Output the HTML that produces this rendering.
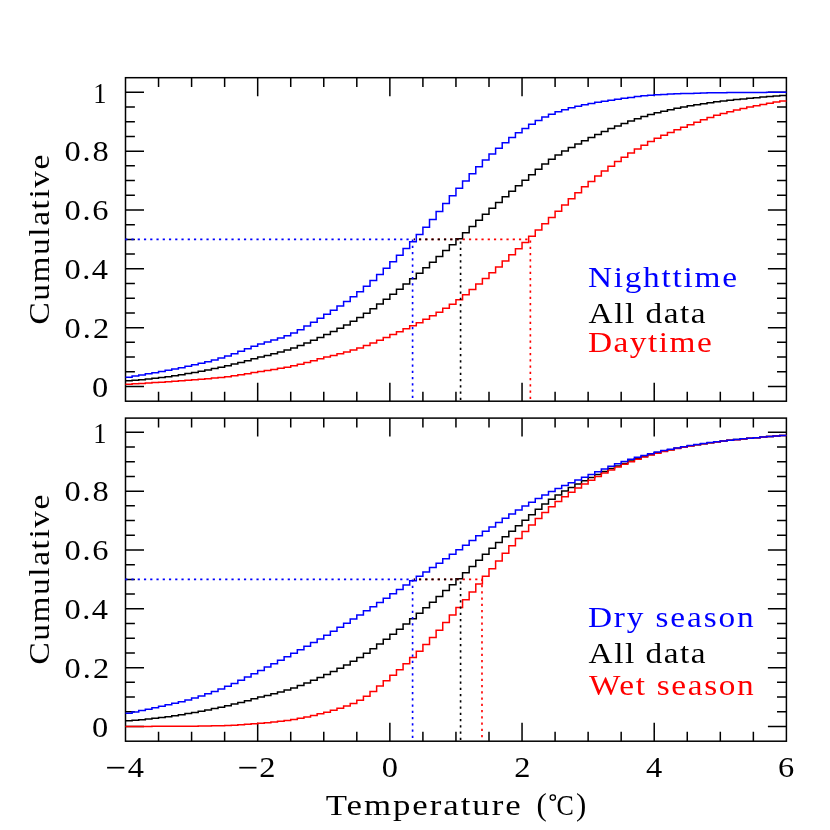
<!DOCTYPE html>
<html><head><meta charset="utf-8"><title>Cumulative temperature distributions</title>
<style>
html,body{margin:0;padding:0;background:#fff;}
svg{display:block;will-change:transform;}
text{font-family:"Liberation Serif",serif;}
</style></head>
<body>
<svg width="830" height="830" viewBox="0 0 830 830">
<rect width="830" height="830" fill="#fff"/>
<rect x="125.5" y="77.7" width="660.90" height="323.50" fill="none" stroke="#000" stroke-width="1.5"/>
<path d="M158.55,401.2v-9.4M158.55,77.7v9.4M191.59,401.2v-9.4M191.59,77.7v9.4M224.63,401.2v-9.4M224.63,77.7v9.4M257.68,401.2v-18.5M257.68,77.7v18.5M290.73,401.2v-9.4M290.73,77.7v9.4M323.77,401.2v-9.4M323.77,77.7v9.4M356.81,401.2v-9.4M356.81,77.7v9.4M389.86,401.2v-18.5M389.86,77.7v18.5M422.91,401.2v-9.4M422.91,77.7v9.4M455.95,401.2v-9.4M455.95,77.7v9.4M489.00,401.2v-9.4M489.00,77.7v9.4M522.04,401.2v-18.5M522.04,77.7v18.5M555.09,401.2v-9.4M555.09,77.7v9.4M588.13,401.2v-9.4M588.13,77.7v9.4M621.17,401.2v-9.4M621.17,77.7v9.4M654.22,401.2v-18.5M654.22,77.7v18.5M687.26,401.2v-9.4M687.26,77.7v9.4M720.31,401.2v-9.4M720.31,77.7v9.4M753.36,401.2v-9.4M753.36,77.7v9.4M125.5,386.50h18.5M786.4,386.50h-18.5M125.5,371.79h9.4M786.4,371.79h-9.4M125.5,357.08h9.4M786.4,357.08h-9.4M125.5,342.37h9.4M786.4,342.37h-9.4M125.5,327.66h18.5M786.4,327.66h-18.5M125.5,312.95h9.4M786.4,312.95h-9.4M125.5,298.24h9.4M786.4,298.24h-9.4M125.5,283.53h9.4M786.4,283.53h-9.4M125.5,268.82h18.5M786.4,268.82h-18.5M125.5,254.11h9.4M786.4,254.11h-9.4M125.5,239.40h9.4M786.4,239.40h-9.4M125.5,224.69h9.4M786.4,224.69h-9.4M125.5,209.98h18.5M786.4,209.98h-18.5M125.5,195.27h9.4M786.4,195.27h-9.4M125.5,180.56h9.4M786.4,180.56h-9.4M125.5,165.85h9.4M786.4,165.85h-9.4M125.5,151.14h18.5M786.4,151.14h-18.5M125.5,136.43h9.4M786.4,136.43h-9.4M125.5,121.72h9.4M786.4,121.72h-9.4M125.5,107.01h9.4M786.4,107.01h-9.4M125.5,92.30h18.5M786.4,92.30h-18.5" fill="none" stroke="#000" stroke-width="1.5"/>
<path d="M125.50,380.78H132.11V380.28H138.72V379.70H145.33V379.05H151.94V378.34H158.55V377.57H165.15V376.69H171.76V375.70H178.37V374.64H184.98V373.53H191.59V372.39H198.20V371.20H204.81V369.95H211.42V368.62H218.03V367.22H224.63V365.74H231.24V364.12H237.85V362.40H244.46V360.63H251.07V358.84H257.68V357.10H264.29V355.41H270.90V353.71H277.51V351.94H284.12V350.02H290.73V347.90H297.33V345.54H303.94V342.98H310.55V340.27H317.16V337.43H323.77V334.51H330.38V331.47H336.99V328.27H343.60V324.90H350.21V321.31H356.81V317.46H363.42V313.25H370.03V308.74H376.64V304.03H383.25V299.20H389.86V294.32H396.47V289.27H403.08V284.07H409.69V278.74H416.30V273.32H422.91V267.82H429.51V262.19H436.12V256.45H442.73V250.62H449.34V244.72H455.95V238.76H462.56V232.63H469.17V226.42H475.78V220.21H482.39V214.13H489.00V208.23H495.60V202.44H502.21V196.74H508.82V191.13H515.43V185.63H522.04V180.19H528.65V174.69H535.26V169.24H541.87V164.03H548.48V159.22H555.09V154.95H561.69V151.04H568.30V147.40H574.91V143.97H581.52V140.68H588.13V137.49H594.74V134.40H601.35V131.43H607.96V128.61H614.57V125.93H621.17V123.42H627.78V120.99H634.39V118.67H641.00V116.51H647.61V114.53H654.22V112.77H660.83V111.16H667.44V109.67H674.05V108.30H680.66V107.02H687.26V105.84H693.87V104.73H700.48V103.69H707.09V102.72H713.70V101.84H720.31V101.02H726.92V100.28H733.53V99.59H740.14V98.94H746.75V98.31H753.36V97.70H759.96V97.11H766.57V96.55H773.18V96.01H779.79V95.49H786.40" fill="none" stroke="#000000" stroke-width="1.5" stroke-linejoin="miter"/>
<path d="M125.50,384.25H132.11V383.85H138.72V383.45H145.33V383.03H151.94V382.60H158.55V382.16H165.15V381.71H171.76V381.26H178.37V380.78H184.98V380.29H191.59V379.77H198.20V379.24H204.81V378.69H211.42V378.10H218.03V377.44H224.63V376.69H231.24V375.79H237.85V374.78H244.46V373.71H251.07V372.62H257.68V371.56H264.29V370.53H270.90V369.47H277.51V368.36H284.12V367.15H290.73V365.79H297.33V364.21H303.94V362.48H310.55V360.67H317.16V358.85H323.77V357.10H330.38V355.41H336.99V353.71H343.60V351.94H350.21V350.02H356.81V347.89H363.42V345.50H370.03V342.90H376.64V340.17H383.25V337.38H389.86V334.59H396.47V331.76H403.08V328.85H409.69V325.83H416.30V322.66H422.91V319.32H429.51V315.85H436.12V312.21H442.73V308.35H449.34V304.23H455.95V299.79H462.56V294.87H469.17V289.58H475.78V284.05H482.39V278.41H489.00V272.74H495.60V266.90H502.21V260.89H508.82V254.78H515.43V248.64H522.04V242.50H528.65V236.28H535.26V230.00H541.87V223.72H548.48V217.48H555.09V211.30H561.69V205.04H568.30V198.80H574.91V192.70H581.52V186.87H588.13V181.39H594.74V176.12H601.35V171.05H607.96V166.20H614.57V161.59H621.17V157.22H627.78V153.01H634.39V148.98H641.00V145.17H647.61V141.62H654.22V138.37H660.83V135.35H667.44V132.53H674.05V129.85H680.66V127.26H687.26V124.72H693.87V122.20H700.48V119.77H707.09V117.46H713.70V115.34H720.31V113.44H726.92V111.69H733.53V110.07H740.14V108.55H746.75V107.11H753.36V105.74H759.96V104.43H766.57V103.18H773.18V102.01H779.79V100.91H786.40" fill="none" stroke="#ff0000" stroke-width="1.5" stroke-linejoin="miter"/>
<path d="M125.50,377.15H132.11V376.09H138.72V374.99H145.33V373.85H151.94V372.68H158.55V371.48H165.15V370.27H171.76V369.02H178.37V367.71H184.98V366.34H191.59V364.87H198.20V363.32H204.81V361.68H211.42V359.93H218.03V358.06H224.63V356.03H231.24V353.72H237.85V351.21H244.46V348.65H251.07V346.18H257.68V343.93H264.29V341.92H270.90V339.99H277.51V337.97H284.12V335.71H290.73V333.01H297.33V329.77H303.94V326.11H310.55V322.20H317.16V318.18H323.77V314.19H330.38V310.14H336.99V305.95H343.60V301.55H350.21V296.87H356.81V291.85H363.42V286.37H370.03V280.52H376.64V274.41H383.25V268.15H389.86V261.82H396.47V255.31H403.08V248.60H409.69V241.71H416.30V234.62H422.91V227.31H429.51V219.58H436.12V211.60H442.73V203.59H449.34V195.79H455.95V188.34H462.56V180.95H469.17V173.69H475.78V166.69H482.39V160.11H489.00V154.03H495.60V148.21H502.21V142.66H508.82V137.48H515.43V132.73H522.04V128.44H528.65V124.36H535.26V120.54H541.87V117.10H548.48V114.15H555.09V111.75H561.69V109.67H568.30V107.84H574.91V106.21H581.52V104.75H588.13V103.42H594.74V102.23H601.35V101.15H607.96V100.15H614.57V99.22H621.17V98.32H627.78V97.43H634.39V96.57H641.00V95.81H647.61V95.19H654.22V94.74H660.83V94.38H667.44V94.07H674.05V93.81H680.66V93.58H687.26V93.38H693.87V93.19H700.48V93.02H707.09V92.87H713.70V92.76H720.31V92.67H726.92V92.61H733.53V92.55H740.14V92.51H746.75V92.47H753.36V92.43H759.96V92.39H766.57V92.36H773.18V92.33H779.79V92.31H786.40" fill="none" stroke="#0000ff" stroke-width="1.5" stroke-linejoin="miter"/>
<clipPath id="c1"><rect x="413.79" y="0" width="416.21" height="830"/></clipPath><path clip-path="url(#c1)" d="M125.2,239.40H530.37V401.2" fill="none" stroke="#ff0000" stroke-width="1.65" stroke-dasharray="2.2 4.05"/>
<clipPath id="c2"><rect x="413.79" y="0" width="416.21" height="830"/></clipPath><path clip-path="url(#c2)" d="M125.2,239.40H460.58V401.2" fill="none" stroke="#000000" stroke-width="1.65" stroke-dasharray="2.2 4.05"/>
<path d="M125.2,239.40H412.59V401.2" fill="none" stroke="#0000ff" stroke-width="1.65" stroke-dasharray="2.2 4.05"/>
<rect x="125.5" y="418.1" width="660.90" height="323.10" fill="none" stroke="#000" stroke-width="1.5"/>
<path d="M158.55,741.2v-9.4M158.55,418.1v9.4M191.59,741.2v-9.4M191.59,418.1v9.4M224.63,741.2v-9.4M224.63,418.1v9.4M257.68,741.2v-18.5M257.68,418.1v18.5M290.73,741.2v-9.4M290.73,418.1v9.4M323.77,741.2v-9.4M323.77,418.1v9.4M356.81,741.2v-9.4M356.81,418.1v9.4M389.86,741.2v-18.5M389.86,418.1v18.5M422.91,741.2v-9.4M422.91,418.1v9.4M455.95,741.2v-9.4M455.95,418.1v9.4M489.00,741.2v-9.4M489.00,418.1v9.4M522.04,741.2v-18.5M522.04,418.1v18.5M555.09,741.2v-9.4M555.09,418.1v9.4M588.13,741.2v-9.4M588.13,418.1v9.4M621.17,741.2v-9.4M621.17,418.1v9.4M654.22,741.2v-18.5M654.22,418.1v18.5M687.26,741.2v-9.4M687.26,418.1v9.4M720.31,741.2v-9.4M720.31,418.1v9.4M753.36,741.2v-9.4M753.36,418.1v9.4M125.5,726.50h18.5M786.4,726.50h-18.5M125.5,711.79h9.4M786.4,711.79h-9.4M125.5,697.08h9.4M786.4,697.08h-9.4M125.5,682.37h9.4M786.4,682.37h-9.4M125.5,667.66h18.5M786.4,667.66h-18.5M125.5,652.95h9.4M786.4,652.95h-9.4M125.5,638.24h9.4M786.4,638.24h-9.4M125.5,623.53h9.4M786.4,623.53h-9.4M125.5,608.82h18.5M786.4,608.82h-18.5M125.5,594.11h9.4M786.4,594.11h-9.4M125.5,579.40h9.4M786.4,579.40h-9.4M125.5,564.69h9.4M786.4,564.69h-9.4M125.5,549.98h18.5M786.4,549.98h-18.5M125.5,535.27h9.4M786.4,535.27h-9.4M125.5,520.56h9.4M786.4,520.56h-9.4M125.5,505.85h9.4M786.4,505.85h-9.4M125.5,491.14h18.5M786.4,491.14h-18.5M125.5,476.43h9.4M786.4,476.43h-9.4M125.5,461.72h9.4M786.4,461.72h-9.4M125.5,447.01h9.4M786.4,447.01h-9.4M125.5,432.30h18.5M786.4,432.30h-18.5" fill="none" stroke="#000" stroke-width="1.5"/>
<path d="M125.50,720.78H132.11V720.28H138.72V719.70H145.33V719.05H151.94V718.34H158.55V717.57H165.15V716.69H171.76V715.70H178.37V714.64H184.98V713.53H191.59V712.39H198.20V711.20H204.81V709.95H211.42V708.62H218.03V707.22H224.63V705.74H231.24V704.12H237.85V702.40H244.46V700.63H251.07V698.84H257.68V697.10H264.29V695.41H270.90V693.71H277.51V691.94H284.12V690.02H290.73V687.90H297.33V685.54H303.94V682.98H310.55V680.27H317.16V677.43H323.77V674.51H330.38V671.47H336.99V668.27H343.60V664.90H350.21V661.31H356.81V657.46H363.42V653.25H370.03V648.74H376.64V644.03H383.25V639.20H389.86V634.32H396.47V629.27H403.08V624.07H409.69V618.74H416.30V613.32H422.91V607.82H429.51V602.19H436.12V596.45H442.73V590.62H449.34V584.72H455.95V578.76H462.56V572.63H469.17V566.42H475.78V560.21H482.39V554.13H489.00V548.23H495.60V542.44H502.21V536.74H508.82V531.13H515.43V525.63H522.04V520.19H528.65V514.69H535.26V509.24H541.87V504.03H548.48V499.22H555.09V494.95H561.69V491.04H568.30V487.40H574.91V483.97H581.52V480.68H588.13V477.49H594.74V474.40H601.35V471.43H607.96V468.61H614.57V465.93H621.17V463.42H627.78V460.99H634.39V458.67H641.00V456.51H647.61V454.53H654.22V452.77H660.83V451.16H667.44V449.67H674.05V448.30H680.66V447.02H687.26V445.84H693.87V444.73H700.48V443.69H707.09V442.72H713.70V441.84H720.31V441.02H726.92V440.28H733.53V439.59H740.14V438.94H746.75V438.31H753.36V437.70H759.96V437.11H766.57V436.55H773.18V436.01H779.79V435.49H786.40" fill="none" stroke="#000000" stroke-width="1.5" stroke-linejoin="miter"/>
<path d="M125.50,726.49H132.11V726.46H138.72V726.43H145.33V726.40H151.94V726.37H158.55V726.34H165.15V726.31H171.76V726.29H178.37V726.26H184.98V726.23H191.59V726.18H198.20V726.10H204.81V726.00H211.42V725.86H218.03V725.71H224.63V725.51H231.24V725.20H237.85V724.80H244.46V724.33H251.07V723.82H257.68V723.29H264.29V722.71H270.90V722.06H277.51V721.32H284.12V720.48H290.73V719.53H297.33V718.36H303.94V717.00H310.55V715.48H317.16V713.85H323.77V712.13H330.38V710.31H336.99V708.31H343.60V706.05H350.21V703.45H356.81V700.34H363.42V696.26H370.03V691.42H376.64V686.12H383.25V680.66H389.86V675.25H396.47V669.63H403.08V663.75H409.69V657.61H416.30V651.23H422.91V644.58H429.51V637.52H436.12V630.14H442.73V622.58H449.34V614.96H455.95V607.38H462.56V599.67H469.17V591.88H475.78V584.07H482.39V576.32H489.00V568.66H495.60V560.92H502.21V553.20H508.82V545.66H515.43V538.43H522.04V531.60H528.65V524.94H535.26V518.51H541.87V512.41H548.48V506.73H555.09V501.55H561.69V496.72H568.30V492.19H574.91V487.94H581.52V483.93H588.13V480.15H594.74V476.54H601.35V473.11H607.96V469.90H614.57V466.93H621.17V464.21H627.78V461.65H634.39V459.25H641.00V457.03H647.61V455.01H654.22V453.18H660.83V451.50H667.44V449.94H674.05V448.51H680.66V447.19H687.26V445.97H693.87V444.84H700.48V443.78H707.09V442.80H713.70V441.90H720.31V441.08H726.92V440.33H733.53V439.63H740.14V438.98H746.75V438.35H753.36V437.73H759.96V437.14H766.57V436.56H773.18V436.01H779.79V435.49H786.40" fill="none" stroke="#ff0000" stroke-width="1.5" stroke-linejoin="miter"/>
<path d="M125.50,713.34H132.11V712.00H138.72V710.62H145.33V709.20H151.94V707.74H158.55V706.25H165.15V704.76H171.76V703.23H178.37V701.63H184.98V699.91H191.59V698.03H198.20V695.99H204.81V693.80H211.42V691.45H218.03V688.96H224.63V686.31H231.24V683.40H237.85V680.27H244.46V677.01H251.07V673.71H257.68V670.43H264.29V667.09H270.90V663.69H277.51V660.24H284.12V656.76H290.73V653.26H297.33V649.75H303.94V646.21H310.55V642.62H317.16V638.94H323.77V635.16H330.38V631.25H336.99V627.26H343.60V623.20H350.21V619.11H356.81V615.00H363.42V610.84H370.03V606.64H376.64V602.41H383.25V598.14H389.86V593.84H396.47V589.49H403.08V585.11H409.69V580.71H416.30V576.30H422.91V571.91H429.51V567.53H436.12V563.14H442.73V558.73H449.34V554.28H455.95V549.77H462.56V545.16H469.17V540.50H475.78V535.86H482.39V531.31H489.00V526.90H495.60V522.53H502.21V518.23H508.82V514.03H515.43V509.97H522.04V506.06H528.65V502.24H535.26V498.52H541.87V494.95H548.48V491.57H555.09V488.42H561.69V485.49H568.30V482.72H574.91V480.03H581.52V477.35H588.13V474.61H594.74V471.80H601.35V468.99H607.96V466.29H614.57V463.77H621.17V461.49H627.78V459.35H634.39V457.34H641.00V455.45H647.61V453.71H654.22V452.11H660.83V450.62H667.44V449.22H674.05V447.92H680.66V446.70H687.26V445.57H693.87V444.50H700.48V443.49H707.09V442.55H713.70V441.68H720.31V440.89H726.92V440.16H733.53V439.49H740.14V438.86H746.75V438.25H753.36V437.65H759.96V437.08H766.57V436.52H773.18V435.99H779.79V435.49H786.40" fill="none" stroke="#0000ff" stroke-width="1.5" stroke-linejoin="miter"/>
<clipPath id="c3"><rect x="413.79" y="0" width="416.21" height="830"/></clipPath><path clip-path="url(#c3)" d="M125.2,579.40H481.99V741.2" fill="none" stroke="#ff0000" stroke-width="1.65" stroke-dasharray="2.2 4.05"/>
<clipPath id="c4"><rect x="413.79" y="0" width="416.21" height="830"/></clipPath><path clip-path="url(#c4)" d="M125.2,579.40H460.58V741.2" fill="none" stroke="#000000" stroke-width="1.65" stroke-dasharray="2.2 4.05"/>
<path d="M125.2,579.40H412.59V741.2" fill="none" stroke="#0000ff" stroke-width="1.65" stroke-dasharray="2.2 4.05"/>
<text transform="translate(92.08,396.8) scale(1.08,1)" font-size="30.0" fill="#000000" style="letter-spacing:0.000px">0</text>
<text transform="translate(64.58,338.0) scale(1.08,1)" font-size="30.0" fill="#000000" style="letter-spacing:1.897px">0.2</text>
<text transform="translate(64.58,279.1) scale(1.08,1)" font-size="30.0" fill="#000000" style="letter-spacing:1.297px">0.4</text>
<text transform="translate(64.58,220.3) scale(1.08,1)" font-size="30.0" fill="#000000" style="letter-spacing:1.522px">0.6</text>
<text transform="translate(64.58,161.4) scale(1.08,1)" font-size="30.0" fill="#000000" style="letter-spacing:1.634px">0.8</text>
<text transform="translate(93.29,102.6) scale(0.88,1)" font-size="30.0" fill="#000000" style="letter-spacing:0.000px">1</text>
<text transform="translate(92.08,736.8) scale(1.08,1)" font-size="30.0" fill="#000000" style="letter-spacing:0.000px">0</text>
<text transform="translate(64.58,678.0) scale(1.08,1)" font-size="30.0" fill="#000000" style="letter-spacing:1.897px">0.2</text>
<text transform="translate(64.58,619.1) scale(1.08,1)" font-size="30.0" fill="#000000" style="letter-spacing:1.297px">0.4</text>
<text transform="translate(64.58,560.3) scale(1.08,1)" font-size="30.0" fill="#000000" style="letter-spacing:1.522px">0.6</text>
<text transform="translate(64.58,501.4) scale(1.08,1)" font-size="30.0" fill="#000000" style="letter-spacing:1.634px">0.8</text>
<text transform="translate(93.29,442.6) scale(0.88,1)" font-size="30.0" fill="#000000" style="letter-spacing:0.000px">1</text>
<path d="M107.10,767.7h17.2" stroke="#000" stroke-width="1.7" fill="none"/>
<text transform="translate(127.75,777.4) scale(1.08,1)" font-size="30.0" fill="#000000" style="letter-spacing:0.000px">4</text>
<path d="M239.28,767.7h17.2" stroke="#000" stroke-width="1.7" fill="none"/>
<text transform="translate(259.14,777.4) scale(1.08,1)" font-size="30.0" fill="#000000" style="letter-spacing:0.000px">2</text>
<text transform="translate(381.79,777.4) scale(1.08,1)" font-size="30.0" fill="#000000" style="letter-spacing:0.000px">0</text>
<text transform="translate(514.14,777.4) scale(1.08,1)" font-size="30.0" fill="#000000" style="letter-spacing:0.000px">2</text>
<text transform="translate(646.05,777.4) scale(1.08,1)" font-size="30.0" fill="#000000" style="letter-spacing:0.000px">4</text>
<text transform="translate(778.12,777.4) scale(1.08,1)" font-size="30.0" fill="#000000" style="letter-spacing:0.000px">6</text>
<text transform="translate(325.69,814.6) scale(1.18,1)" font-size="29.5" fill="#000000" style="letter-spacing:1.668px">Temperature</text>
<text transform="translate(536.41,815.3) scale(0.95,1)" font-size="32.5" fill="#000000" style="letter-spacing:0.000px">(</text>
<circle cx="552.8" cy="797.6" r="2.65" fill="none" stroke="#000" stroke-width="1.35"/>
<text transform="translate(556.56,814.8) scale(0.88,1)" font-size="29.5" fill="#000000" style="letter-spacing:0.000px">C</text>
<text transform="translate(575.90,815.3) scale(0.95,1)" font-size="32.5" fill="#000000" style="letter-spacing:0.000px">)</text>
<text transform="translate(48.8,324.53) rotate(-90) scale(1.13,1)" font-size="29.5" fill="#000000" style="letter-spacing:1.417px">Cumulative</text>
<text transform="translate(48.8,664.53) rotate(-90) scale(1.13,1)" font-size="29.5" fill="#000000" style="letter-spacing:1.417px">Cumulative</text>
<text transform="translate(587.90,287.3) scale(1.13,1)" font-size="29.5" fill="#0000ff" style="letter-spacing:1.539px">Nighttime</text>
<text transform="translate(588.57,323.0) scale(1.13,1)" font-size="29.5" fill="#000000" style="letter-spacing:1.331px">All data</text>
<text transform="translate(587.90,351.5) scale(1.13,1)" font-size="29.5" fill="#ff0000" style="letter-spacing:1.332px">Daytime</text>
<text transform="translate(587.90,627.3) scale(1.13,1)" font-size="29.5" fill="#0000ff" style="letter-spacing:1.653px">Dry season</text>
<text transform="translate(588.57,663.0) scale(1.13,1)" font-size="29.5" fill="#000000" style="letter-spacing:1.331px">All data</text>
<text transform="translate(588.90,694.7) scale(1.13,1)" font-size="29.5" fill="#ff0000" style="letter-spacing:1.456px">Wet season</text>
</svg>
</body></html>
